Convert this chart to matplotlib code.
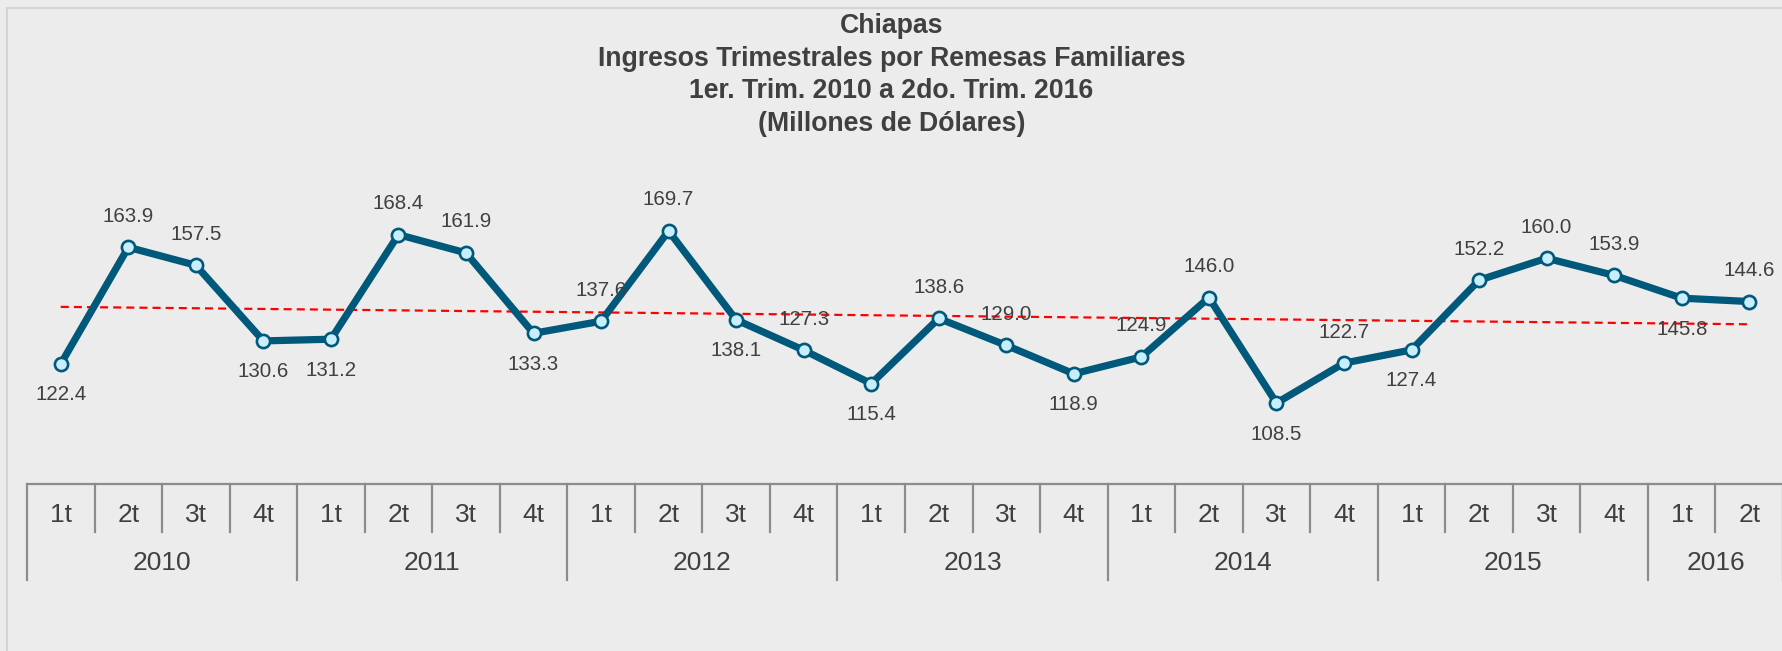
import matplotlib.pyplot as plt
import matplotlib.transforms as mtransforms
from matplotlib.patches import Rectangle
import numpy as np

plt.rcParams['font.family'] = ['Liberation Sans', 'DejaVu Sans']

# data
years = ['2010', '2011', '2012', '2013', '2014', '2015', '2016']
quarters_per_year = [4, 4, 4, 4, 4, 4, 2]
quarter_labels = ['1t', '2t', '3t', '4t']
values = [122.4, 163.9, 157.5, 130.6,
          131.2, 168.4, 161.9, 133.3,
          137.6, 169.7, 138.1, 127.3,
          115.4, 138.6, 129.0, 118.9,
          124.9, 146.0, 108.5, 122.7,
          127.4, 152.2, 160.0, 153.9,
          145.8, 144.6]
# where each value label sits: 1 above the point, -1 below
label_side = [-1, 1, 1, -1,
              -1, 1, 1, -1,
              1, 1, -1, 1,
              -1, 1, 1, -1,
              1, 1, -1, 1,
              -1, 1, 1, 1,
              -1, 1]

bg = '#ececec'
line_col = '#00587a'
text_col = '#404040'
grid_col = '#8c8c8c'

W, H = 1783, 651
fig = plt.figure(figsize=(W / 100, H / 100), dpi=100, facecolor=bg)

# outer frame
fig.patches.append(Rectangle((7 / W, -0.1), 1.1, 1 - 8 / H + 0.1, transform=fig.transFigure,
                             fill=False, edgecolor='#d4d4d4', linewidth=1.5))

ax_left, ax_top, ax_bottom = 27, 150, 484
ax = fig.add_axes([ax_left / W, 1 - ax_bottom / H, 1 - ax_left / W, (ax_bottom - ax_top) / H])
ax.set_facecolor(bg)
ax.patch.set_alpha(0)

x = np.arange(len(values))
y = np.array(values)

# trend line
m, b = np.polyfit(x, y, 1)
ax.plot(x, m * x + b, color='#ff0000', linestyle=(0, (3.6, 2.3)), linewidth=1.6, zorder=2)

ax.plot(x, y, color=line_col, linewidth=5.2, marker='o', markersize=9.5,
        markerfacecolor='#c8eefb', markeredgecolor=line_col, markeredgewidth=1.9, zorder=3)

for xi, yi, side in zip(x, y, label_side):
    ax.annotate(f'{yi:.1f}', (xi, yi), xytext=(0, 31 * side), textcoords='offset pixels',
                ha='center', va='center', fontsize=14.8, color=text_col, zorder=4)

ax.set_xlim(-0.5, len(values) - 0.5)
ax.set_ylim(79.7, 198.5)
ax.set_xticks([])
ax.set_yticks([])
for s in ax.spines.values():
    s.set_visible(False)

# two-level category axis
trans = mtransforms.blended_transform_factory(ax.transData, ax.transAxes)
span = ax_bottom - ax_top
q_end = -(532 - ax_bottom) / span
y_end = -(580 - ax_bottom) / span
q_text = -(515 - ax_bottom) / span
y_text = -(563 - ax_bottom) / span

ax.plot([-0.5, len(values) - 0.5], [0, 0], transform=trans, color=grid_col,
        linewidth=1.6, clip_on=False)

year_edges = np.concatenate([[0], np.cumsum(quarters_per_year)]) - 0.5
for e in np.arange(-0.5, len(values)):
    low = y_end if e in year_edges else q_end
    ax.plot([e, e], [0, low], transform=trans, color=grid_col, linewidth=1.6, clip_on=False)

i = 0
for yr, n in zip(years, quarters_per_year):
    for q in range(n):
        ax.text(i + q, q_text, quarter_labels[q], transform=trans, ha='center', va='center',
                fontsize=19, color=text_col)
    ax.text(i + (n - 1) / 2, y_text, yr, transform=trans, ha='center', va='center',
            fontsize=19, color=text_col)
    i += n

title = ('Chiapas\nIngresos Trimestrales por Remesas Familiares\n'
         '1er. Trim. 2010 a 2do. Trim. 2016\n(Millones de Dólares)')
fig.text(0.5, 1 - 75 / H, title, ha='center', va='center', fontsize=19.2,
         fontweight='bold', color=text_col, linespacing=1.32)

fig.savefig('out.png', dpi=100, facecolor=bg)
